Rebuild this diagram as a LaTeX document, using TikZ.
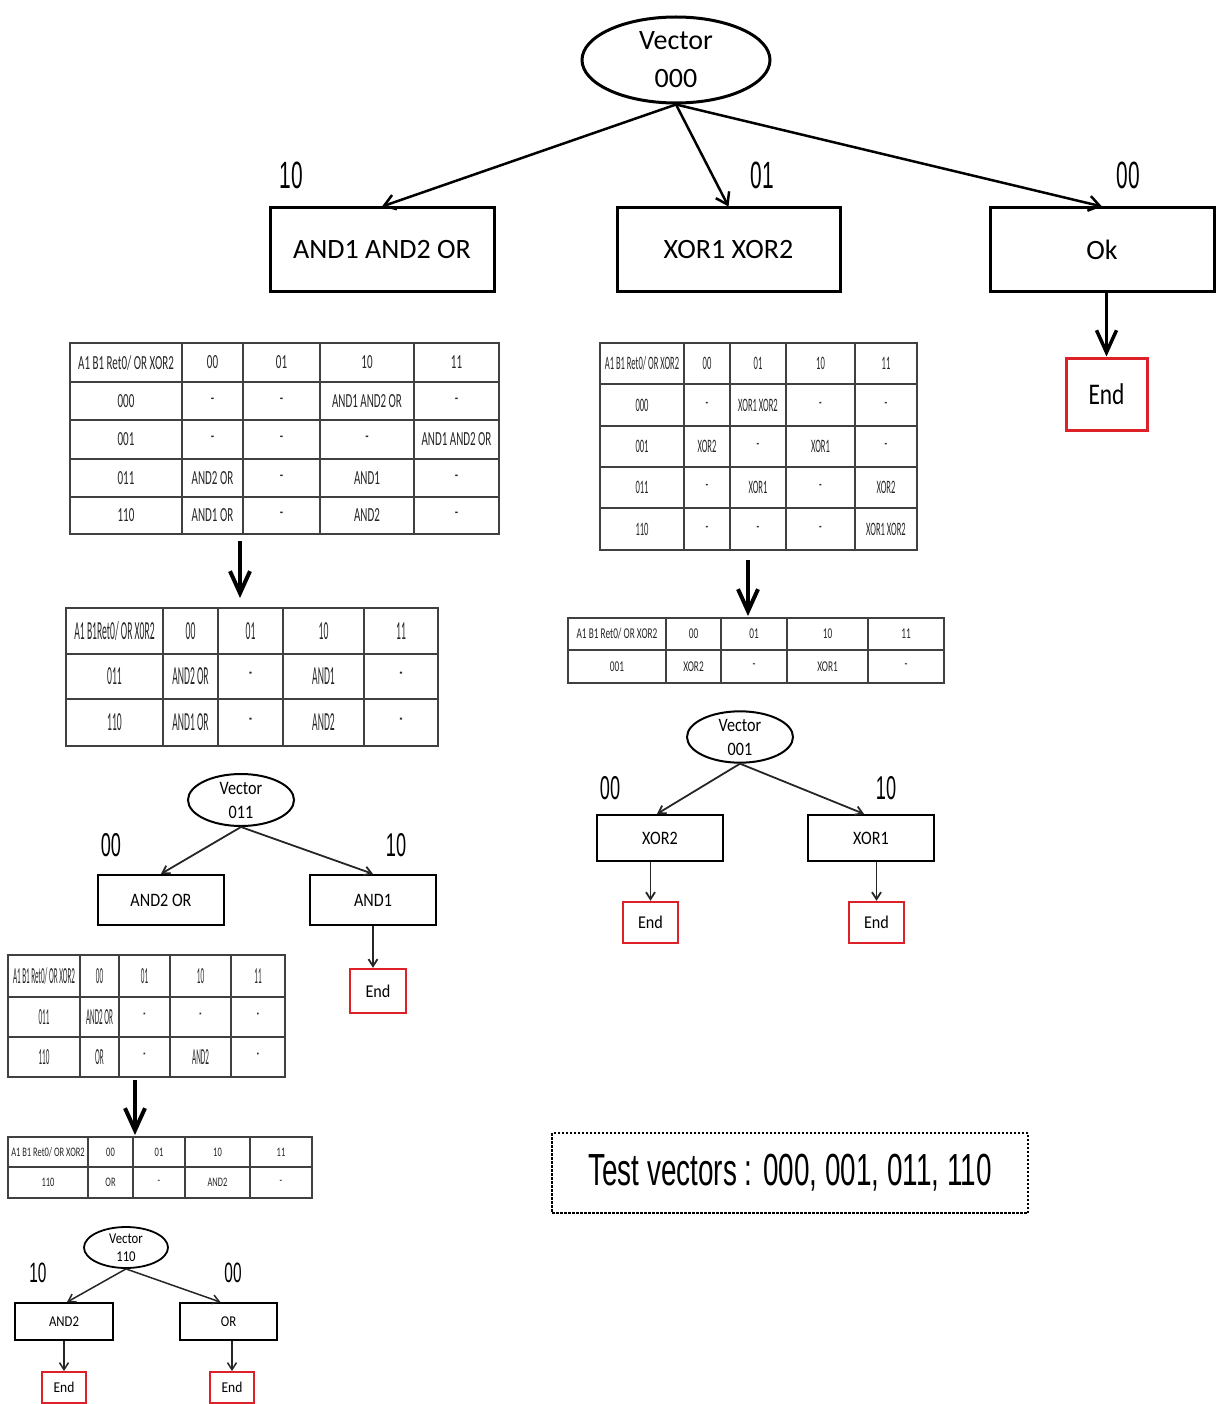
\documentclass[tikz,border=0pt]{standalone}
\usepackage{fontspec}
\setmainfont{Carlito}
\newfontfamily\arialf{Liberation Sans}
\usepackage{graphicx}
\usetikzlibrary{shapes.geometric,arrows.meta}
\definecolor{endred}{RGB}{222,32,40}
\newcommand\fs[2]{\fontsize{#1}{#2}\selectfont}
\newcommand\hs[2]{\scalebox{#1}[1]{#2}}
\newcount\cellno
\newcommand\tcell[3]{\global\advance\cellno by 1 \node[cell] (cell\the\cellno) at (#1,#2) {\hs{\tsc}{#3}};}
\newcommand\trow[6]{\tcell{\ca}{#1}{#2}\tcell{\cb}{#1}{#3}\tcell{\cc}{#1}{#4}\tcell{\cd}{#1}{#5}\tcell{\ce}{#1}{#6}}
\newcommand\tgrid[7]{%
  \node[tframe, minimum width={#4-#2}, minimum height={#5-#3}] (#1) at ({(#2+#4)/2},{(#3+#5)/2}) {};
  \foreach \xx in {#6} \draw[tline] (\xx,#3) -- (\xx,#5);
  \foreach \yy in {#7} \draw[tline] (#2,\yy) -- (#4,\yy);
}
\begin{document}
\begin{tikzpicture}[x=1pt,y=-1pt,
  topbox/.style={draw, line width=3pt, minimum width=224pt, minimum height=84pt, inner sep=0pt, font=\fs{28}{34}},
  topell/.style={draw, ellipse, line width=3pt, minimum width=188pt, minimum height=86pt, inner sep=0pt, align=center, font=\fs{28}{38}},
  midell/.style={draw, ellipse, line width=2pt, minimum width=106pt, minimum height=52pt, inner sep=0pt, align=center, font=\fs{19}{24}},
  lowell/.style={draw, ellipse, line width=1.8pt, minimum width=84pt, minimum height=41pt, inner sep=0pt, align=center, font=\fs{15}{18}},
  midbox/.style={draw, line width=2.2pt, minimum width=126pt, inner sep=0pt, font=\fs{19}{22}},
  lowbox/.style={draw, line width=1.8pt, minimum width=97pt, minimum height=37pt, inner sep=0pt, font=\fs{15}{18}},
  endbig/.style={draw=endred, line width=3pt, minimum width=81pt, minimum height=72pt, inner sep=0pt, font=\fs{30}{34}},
  endmid/.style={draw=endred, line width=2.4pt, minimum width=55pt, minimum height=43pt, inner sep=0pt, font=\fs{18}{22}},
  endlow/.style={draw=endred, line width=2pt, minimum width=44pt, minimum height=31pt, inner sep=0pt, font=\fs{15}{18}},
  lab/.style={inner sep=0pt, font=\arialf\fs{38}{40}},
  labm/.style={inner sep=0pt, font=\arialf\fs{33}{36}},
  labs/.style={inner sep=0pt, font=\arialf\fs{28}{30}},
  toparr/.style={line width=2.5pt, -{Straight Barb[length=11pt,width=15pt]}},
  bigarr/.style={line width=4pt, -{Straight Barb[length=22pt,width=20pt]}},
  smallarr/.style={line width=1.8pt, draw=black!85, -{Straight Barb[length=7pt,width=9pt]}},
  tframe/.style={draw=black!75, line width=2.2pt, inner sep=0pt},
  tline/.style={draw=black!75, line width=1.6pt},
  cell/.style={inner sep=0pt, text=black!85}
]
\useasboundingbox (0,0) rectangle (1223,1404);

% ---------- top level ----------
\node[topell] (v0) at (676,60) {Vector\\000};
\node[topbox] (b1) at (382,250) {AND1 AND2 OR};
\node[topbox, minimum width=223pt] (b2) at (728.5,250) {XOR1 XOR2};
\node[topbox] (b3) at (1102,250) {Ok};
\node[endbig] (e0) at (1106.5,394) {\hs{.78}{End}};
\draw[toparr] (v0.south) -- (b1.north);
\draw[toparr] (v0.south) -- (b2.north);
\draw[toparr] (v0.south) -- (b3.north);
\draw[line width=3.5pt, -{Straight Barb[length=22pt,width=20pt]}] (b3.south -| e0.north) -- (e0.north);
\node[lab] (l10) at (291,175) {\hs{.55}{10}};
\node[lab] (l01) at (762,175) {\hs{.55}{01}};
\node[lab] (l00) at (1128,175) {\hs{.55}{00}};

% ---------- table 1 ----------
\tgrid{t1}{70}{343}{499}{534}{182,243,320,414}{382,420,459,497}
\tikzset{cell/.append style={font=\fs{20}{22}}}
\def\tsc{.55}\def\ca{126}\def\cb{212.5}\def\cc{281.5}\def\cd{367}\def\ce{456.5}
\trow{362.5}{A1 B1 Ret0/ OR XOR2}{00}{01}{10}{11}
\trow{401}{000}{-}{-}{AND1 AND2 OR}{-}
\trow{439.5}{001}{-}{-}{-}{AND1 AND2 OR}
\trow{478}{011}{AND2 OR}{-}{AND1}{-}
\trow{515.5}{110}{AND1 OR}{-}{AND2}{-}

% ---------- table 2 ----------
\tgrid{t2}{600}{343}{917}{550}{684,730,786,855}{384,426,467,508}
\tikzset{cell/.append style={font=\fs{19}{21}}}
\def\tsc{.45}\def\ca{642}\def\cb{707}\def\cc{758}\def\cd{820.5}\def\ce{886}
\trow{363.5}{A1 B1 Ret0/ OR XOR2}{00}{01}{10}{11}
\trow{405}{000}{-}{XOR1 XOR2}{-}{-}
\trow{446.5}{001}{XOR2}{-}{XOR1}{-}
\trow{487.5}{011}{-}{XOR1}{-}{XOR2}
\trow{529}{110}{-}{-}{-}{XOR1 XOR2}

% ---------- table 3 ----------
\tgrid{t3}{66}{608}{438}{746}{163,218,283,364}{654,699}
\tikzset{cell/.append style={font=\fs{26}{28}}}
\def\tsc{.37}\def\ca{114.5}\def\cb{190.5}\def\cc{250.5}\def\cd{323.5}\def\ce{401}
\trow{631}{A1 B1Ret0/ OR X0R2}{00}{01}{10}{11}
\trow{676.5}{011}{AND2 OR}{-}{AND1}{-}
\trow{722.5}{110}{AND1 OR}{-}{AND2}{-}

% ---------- table 4 ----------
\tgrid{t4}{568}{618}{944}{683}{666,721,787,868}{650}
\tikzset{cell/.append style={font=\fs{15}{17}}}
\def\tsc{.62}\def\ca{617}\def\cb{693.5}\def\cc{754}\def\cd{827.5}\def\ce{906}
\trow{634}{A1 B1 Ret0/ OR XOR2}{00}{01}{10}{11}
\trow{666.5}{001}{XOR2}{-}{XOR1}{-}

% ---------- table 5 ----------
\tgrid{t5}{8}{955}{285}{1077}{80,119,170,231}{997,1037}
\tikzset{cell/.append style={font=\fs{23}{25}}}
\def\tsc{.31}\def\ca{44}\def\cb{99.5}\def\cc{144.5}\def\cd{200.5}\def\ce{258}
\trow{976}{A1 B1 Ret0/ OR XOR2}{00}{01}{10}{11}
\trow{1017}{011}{AND2 OR}{-}{-}{-}
\trow{1057}{110}{OR}{-}{AND2}{-}

% ---------- table 6 ----------
\tgrid{t6}{8}{1137}{312}{1198}{88,133,185,250}{1167}
\tikzset{cell/.append style={font=\fs{13}{15}}}
\def\tsc{.65}\def\ca{48}\def\cb{110.5}\def\cc{159}\def\cd{217.5}\def\ce{281}
\trow{1152}{A1 B1 Ret0/ OR XOR2}{00}{01}{10}{11}
\trow{1182.5}{110}{OR}{-}{AND2}{-}

% ---------- table arrows ----------
\coordinate (a1s) at (240,541); \coordinate (a1e) at (240,598);
\coordinate (a2s) at (748,560); \coordinate (a2e) at (748,616);
\coordinate (a3s) at (135,1080); \coordinate (a3e) at (135,1135);
\draw[bigarr] (a1s) -- (a1e);
\draw[bigarr] (a2s) -- (a2e);
\draw[bigarr] (a3s) -- (a3e);

% ---------- tree 011 ----------
\node[midell] (v1) at (241,800) {\hs{.85}{Vector}\\\hs{.85}{011}};
\node[midbox, minimum height=50pt] (c1) at (161,900) {\hs{.85}{AND2 OR}};
\node[midbox, minimum height=50pt] (c2) at (373,900) {\hs{.85}{AND1}};
\node[endmid, minimum width=56pt, minimum height=44pt] (e1) at (378,991) {\hs{.9}{End}};
\draw[smallarr] (v1.south) -- (c1.north);
\draw[smallarr] (v1.south) -- (c2.north);
\draw[smallarr] (c2.south) -- (c2.south |- e1.north);
\node[labm] (l11) at (111,845) {\hs{.55}{00}};
\node[labm] (l12) at (396,845) {\hs{.55}{10}};

% ---------- tree 001 ----------
\node[midell, minimum height=50pt] (v2) at (740,737) {\hs{.85}{Vector}\\\hs{.85}{001}};
\node[midbox, minimum height=46pt] (d1) at (660,838) {\hs{.85}{XOR2}};
\node[midbox, minimum height=46pt] (d2) at (871,838) {\hs{.85}{XOR1}};
\node[endmid, minimum height=41pt] (e2) at (650.5,922.5) {\hs{.9}{End}};
\node[endmid, minimum height=41pt] (e3) at (876.5,922.5) {\hs{.9}{End}};
\draw[smallarr] (v2.south) -- ([xshift=-3pt]d1.north);
\draw[smallarr] (v2.south) -- ([xshift=-7pt]d2.north);
\draw[smallarr] (d1.south -| e2.north) -- (e2.north);
\draw[smallarr] (d2.south -| e3.north) -- (e3.north);
\node[labm] (l21) at (610,788) {\hs{.55}{00}};
\node[labm] (l22) at (886,788) {\hs{.55}{10}};

% ---------- tree 110 ----------
\node[lowell] (v3) at (126,1247.5) {\hs{.85}{Vector}\\\hs{.85}{110}};
\node[lowbox, minimum width=98pt] (f1) at (64,1321.5) {\hs{.85}{AND2}};
\node[lowbox] (f2) at (228.5,1321.5) {\hs{.85}{OR}};
\node[endlow] (e4) at (64,1387.5) {\hs{.9}{End}};
\node[endlow] (e5) at (232,1387.5) {\hs{.9}{End}};
\draw[smallarr, line width=1.5pt] (v3.south) -- ([xshift=3pt]f1.north);
\draw[smallarr, line width=1.5pt] (v3.south) -- ([xshift=-8pt]f2.north);
\draw[smallarr, line width=1.5pt] (f1.south -| e4.north) -- (e4.north);
\draw[smallarr, line width=1.5pt] (f2.south -| e5.north) -- (e5.north);
\node[labs] (l31) at (38,1273) {\hs{.55}{10}};
\node[labs] (l32) at (233,1273) {\hs{.55}{00}};

% ---------- test vectors ----------
\node[draw, dash pattern=on 2.5pt off 1.5pt, line width=1.2pt, minimum width=476pt, minimum height=80pt, inner sep=0pt,
      font=\arialf\fs{45}{50}] (tv) at (790,1173) {\hs{.62}{Test vectors : 000, 001, 011, 110}};
\end{tikzpicture}
\end{document}
